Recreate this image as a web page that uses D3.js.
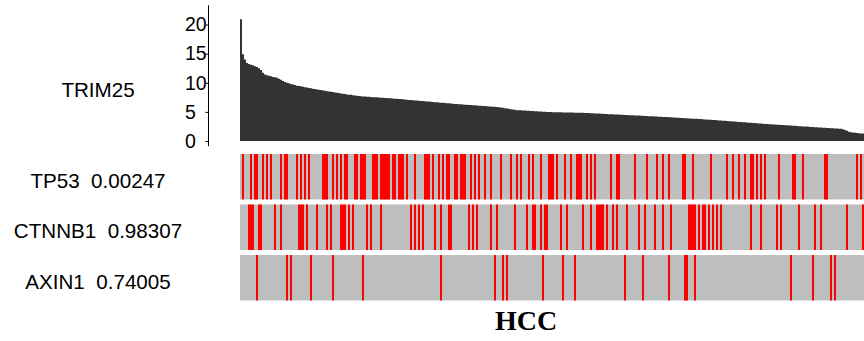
<!DOCTYPE html>
<html><head><meta charset="utf-8">
<script src="https://cdn.jsdelivr.net/npm/d3@7"></script>
<style>body{margin:0;background:#fff}svg{display:block}</style>
</head><body>
<svg id="c" width="864" height="341"></svg>
<script>
// TRIM25 expression per sample, sorted descending
const trim25 = [
20.9,14.9,14.0,13.4,13.2,13.1,13.0,12.85,12.7,12.5,12.2,11.7,11.4,11.3,
11.2,11.1,11.0,10.95,10.85,
10.7,10.5,10.3,10.15,10.0,9.9,
9.8,9.7,9.6,9.5,
9.45,9.38,9.31,9.24,9.17,9.1,9.04,8.97,
8.91,8.85,8.8,8.74,8.68,8.62,8.56,8.5,8.45,
8.4,8.34,8.28,8.22,8.17,8.11,8.05,8.0,
7.96,7.92,7.87,7.83,7.78,7.74,7.7,7.65,
7.63,7.6,7.58,7.56,7.53,7.51,7.49,7.46,7.44,7.41,7.39,7.37,7.34,7.32,7.3,7.27,7.25,
7.22,7.19,7.16,7.12,7.09,7.06,7.03,7.0,6.97,6.94,6.91,6.88,6.85,6.82,6.79,6.76,6.73,
6.7,6.67,6.64,6.61,6.58,6.55,6.52,6.49,6.46,6.43,6.4,6.37,6.34,6.31,6.29,6.27,
6.24,6.22,6.19,6.17,6.14,6.12,6.09,6.07,6.04,6.02,5.99,5.97,5.94,5.92,5.9,5.87,5.85,
5.8,5.75,5.7,5.64,5.58,5.52,5.46,5.41,5.36,5.3,
5.28,5.26,5.24,5.22,5.2,5.18,5.16,5.14,5.12,5.1,5.08,5.06,5.04,5.02,5.0,4.98,4.96,
4.95,4.94,4.93,4.93,4.92,4.91,4.9,4.9,4.89,4.88,4.88,4.87,4.86,4.86,4.85,4.84,
4.82,4.8,4.79,4.77,4.75,4.73,4.72,4.7,4.68,4.67,4.65,4.63,4.61,4.6,4.58,4.56,4.55,4.53,4.51,4.49,
4.48,4.46,4.44,4.43,4.41,4.39,4.37,4.36,4.34,4.32,4.31,4.29,4.27,4.26,
4.24,4.22,4.2,4.18,4.16,4.14,4.12,4.1,4.08,4.06,4.04,4.02,4.0,3.98,3.96,3.94,3.92,3.9,3.88,3.86,
3.84,3.82,3.8,3.78,3.76,3.74,3.71,3.69,
3.66,3.64,3.61,3.59,3.56,3.53,3.51,3.48,3.46,3.43,3.4,3.38,3.35,3.33,3.3,3.28,3.25,3.22,3.2,3.17,
3.15,3.12,3.09,3.07,3.04,3.02,2.99,2.97,2.94,2.92,2.89,2.86,2.84,
2.82,2.8,2.77,2.75,2.73,2.71,2.69,2.66,2.64,2.62,2.6,2.58,2.55,2.53,2.51,2.49,2.47,2.44,2.42,2.4,
2.38,2.36,2.33,2.31,2.29,2.27,2.25,2.22,2.2,2.18,2.16,2.14,2.11,2.09,
2.02,1.9,1.75,1.6,1.5,1.45,1.4,1.36,1.33,1.3,1.28
];
const yTicks = [0,5,10,15,20];
const exprLabel = "TRIM25";
const genes = ["TP53","CTNNB1","AXIN1"];
const pvalues = ["0.00247","0.98307","0.74005"];
// sample indices (in sorted order) carrying a mutation
const tp53Mut = [1,5,7,8,11,13,15,20,22,23,28,30,32,34,41,42,43,46,48,50,52,53,57,58,60,61,62,66,67,68,70,71,72,73,74,76,77,79,80,81,83,87,92,93,94,96,99,101,103,104,107,108,110,111,112,115,117,119,122,125,130,135,138,140,144,146,150,154,155,156,158,162,165,168,169,170,173,175,177,185,188,189,197,203,208,211,214,221,222,226,235,243,246,249,252,255,256,258,260,262,269,276,277,281,292,293,308,310];
const ctnnb1Mut = [4,5,6,9,10,17,20,29,30,31,33,38,43,45,50,51,52,54,56,63,65,70,85,87,89,91,97,100,104,105,114,116,118,125,128,137,143,146,147,150,152,153,160,163,171,175,178,179,180,181,183,186,188,193,199,202,207,211,215,224,225,226,227,229,231,232,234,236,238,240,255,260,268,270,279,287,290,303,311];
const axin1Mut = [8,23,25,35,46,61,100,127,131,133,151,161,167,192,201,214,222,223,227,275,286,295,297];
const mutations = [tp53Mut, ctnnb1Mut, axin1Mut];
const title = "HCC";

const svg = d3.select("#c");
const N = trim25.length;
const sans = "'Liberation Sans', Arial, Helvetica, sans-serif";
const x = d3.scaleLinear().domain([0, N]).range([240, 864]);
const y = d3.scaleLinear().domain([0, 20]).range([141, 24.5]);

// expression area
const pts = trim25.map((v, i) => [i, v]);
pts.push([N, trim25[N - 1]]);
const area = d3.area().curve(d3.curveStepAfter)
  .x(d => x(d[0])).y0(y(0)).y1(d => y(d[1]));
svg.append("path").datum(pts).attr("d", area).attr("fill", "#333333");

// y axis
const ax = svg.append("g").attr("transform", "translate(208.5,0)")
  .call(d3.axisLeft(y).tickValues(yTicks).tickSize(3).tickSizeOuter(0));
ax.select(".domain").remove();
ax.append("line").attr("x1", 0).attr("x2", 0)
  .attr("y1", y(23.3)).attr("y2", y(-0.9)).attr("stroke", "#000");
ax.selectAll(".tick line").attr("stroke", "#000");
ax.selectAll(".tick text").attr("x", -23.5).attr("text-anchor", "start")
  .attr("fill", "#000").style("font-size", "19.5px").style("font-family", sans);

svg.append("text").attr("x", 98).attr("y", 97).attr("text-anchor", "middle")
  .style("font-family", sans).style("font-size", "20.6px").text(exprLabel);

// mutation tracks
const band = d3.scaleBand().domain(genes).range([154, 300.5]).paddingInner(0.1);
genes.forEach((g, k) => {
  const gg = svg.append("g");
  gg.append("rect").attr("x", x(0)).attr("width", x(N) - x(0))
    .attr("y", band(g)).attr("height", band.bandwidth()).attr("fill", "#bebebe");
  gg.selectAll("rect.m").data(mutations[k]).join("rect").attr("class", "m")
    .attr("x", d => x(d)).attr("width", d => x(d + 1) - x(d))
    .attr("y", band(g)).attr("height", band.bandwidth()).attr("fill", "#ff0000");
  svg.append("text").attr("x", 98).attr("y", band(g) + band.bandwidth() / 2 + 10.8)
    .attr("text-anchor", "middle").style("white-space", "pre")
    .style("font-family", sans).style("font-size", "20.6px")
    .text(g + "  " + pvalues[k]);
});

svg.append("text").attr("x", 526).attr("y", 330).attr("text-anchor", "middle")
  .style("font-family", "'Liberation Serif', 'Times New Roman', serif")
  .style("font-weight", "bold").style("font-size", "28px").text(title);
</script>
</body></html>
